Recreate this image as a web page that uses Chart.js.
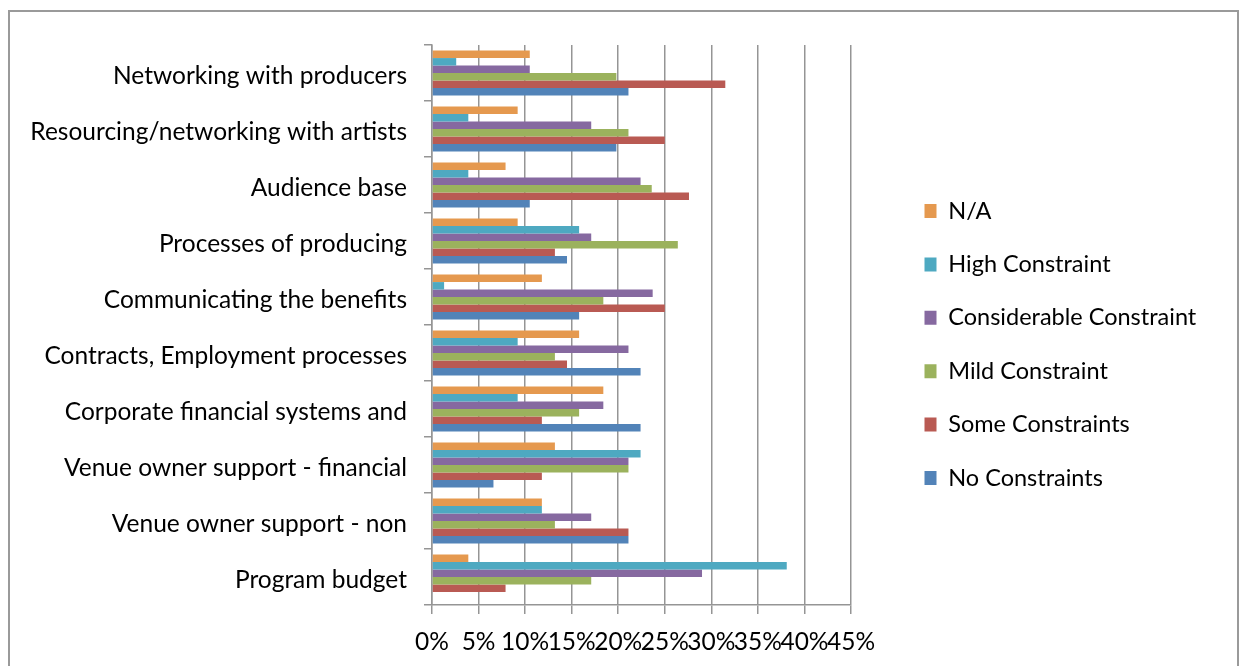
<!DOCTYPE html>
<html>
<head>
<meta charset="utf-8">
<script src="https://cdn.jsdelivr.net/npm/chart.js@4"></script>
<style>
  body { margin: 0; background: #fff; overflow: hidden; }
  #frame {
    position: absolute; left: 8px; top: 10px; width: 1227px; height: 700px;
    border: 2px solid #9a9a9a; border-bottom: none; pointer-events: none;
  }
  canvas { position: absolute; left: 0; top: 0; }
</style>
</head>
<body>
<canvas id="barChart" width="1245" height="666"></canvas>
<div id="frame"></div>
<script>
// categories, top to bottom
const categories = [
  'Networking with producers',
  'Resourcing/networking with artists',
  'Audience base',
  'Processes of producing',
  'Communicating the benefits',
  'Contracts, Employment processes',
  'Corporate financial systems and',
  'Venue owner support - financial',
  'Venue owner support - non',
  'Program budget'
];

// values in %
const notApplicable   = [10.5, 9.2, 7.9, 9.2, 11.8, 15.8, 18.4, 13.2, 11.8, 3.9];
const highConstraint  = [2.6, 3.9, 3.9, 15.8, 1.3, 9.2, 9.2, 22.4, 11.8, 38.1];
const considerable    = [10.5, 17.1, 22.4, 17.1, 23.7, 21.1, 18.4, 21.1, 17.1, 29.0];
const mildConstraint  = [19.8, 21.1, 23.6, 26.4, 18.4, 13.2, 15.8, 21.1, 13.2, 17.1];
const someConstraints = [31.5, 25.0, 27.6, 13.2, 25.0, 14.5, 11.8, 11.8, 21.1, 7.9];
const noConstraints   = [21.1, 19.8, 10.5, 14.5, 15.8, 22.4, 22.4, 6.6, 21.1, 0];

const xTicks = [0, 5, 10, 15, 20, 25, 30, 35, 40, 45];

const axisFont = { family: 'Lato', size: 24.5 };
const legendFont = { family: 'Lato', size: 23.5 };
const gridColor = '#959595';

// empty layout boxes: gap above the plot and between plot and legend,
// plus a fixed legend width so the legend sits where the original has it
const layoutTweaks = {
  id: 'layoutTweaks',
  beforeInit(chart) {
    const spacer = (position, size) => ({
      position, weight: 500, fullSize: false, options: {},
      left: 0, top: 0, right: 0, bottom: 0, width: 0, height: 0,
      isHorizontal() { return position === 'top' || position === 'bottom'; },
      update(maxWidth, maxHeight) {
        if (this.isHorizontal()) { this.width = maxWidth; this.height = size; }
        else { this.width = size; this.height = maxHeight; }
      },
      draw() {}
    });
    Chart.layouts.addBox(chart, spacer('right', 43.6));
    Chart.layouts.addBox(chart, spacer('top', 22));

    const legend = chart.legend;
    const origUpdate = legend.update;
    legend.update = function (maxWidth, maxHeight, margins) {
      origUpdate.call(this, 400, maxHeight, margins);
      this.width = 322;
    };
  }
};

const ctx = document.getElementById('barChart').getContext('2d');

new Chart(ctx, {
  type: 'bar',
  data: {
    labels: categories,
    datasets: [
      { label: 'N/A', data: notApplicable, backgroundColor: '#E5994F' },
      { label: 'High Constraint', data: highConstraint, backgroundColor: '#4EA9C1' },
      { label: 'Considerable Constraint', data: considerable, backgroundColor: '#8669A0' },
      { label: 'Mild Constraint', data: mildConstraint, backgroundColor: '#9BB25D' },
      { label: 'Some Constraints', data: someConstraints, backgroundColor: '#B95A53' },
      { label: 'No Constraints', data: noConstraints, backgroundColor: '#5283B8' }
    ]
  },
  plugins: [layoutTweaks],
  options: {
    indexAxis: 'y',
    responsive: false,
    animation: false,
    categoryPercentage: 0.8,
    barPercentage: 1.0,
    layout: { padding: { top: 23, bottom: 0, left: 0, right: 28.4 } },
    plugins: {
      tooltip: { enabled: false },
      legend: {
        position: 'right',
        align: 'center',
        labels: {
          font: legendFont,
          color: '#000',
          boxWidth: 12,
          boxHeight: 14,
          padding: 29.9
        }
      }
    },
    scales: {
      x: {
        min: 0,
        max: 45,
        afterBuildTicks: (scale) => { scale.ticks = xTicks.map(v => ({ value: v })); },
        afterFit: (scale) => { scale.height = 61; },
        ticks: {
          autoSkip: false,
          maxRotation: 0,
          minRotation: 0,
          padding: 13,
          color: '#000',
          font: axisFont,
          callback: (v) => v + '%'
        },
        grid: { color: gridColor, lineWidth: 1.5, tickLength: 9 },
        border: { color: gridColor, width: 1.5 }
      },
      y: {
        afterFit: (scale) => { scale.width = 432; },
        ticks: { autoSkip: false, padding: 17, labelOffset: 3, color: '#000', font: axisFont },
        grid: {
          offset: true,
          drawOnChartArea: false,
          tickLength: 8,
          color: gridColor,
          lineWidth: 1.5
        },
        border: { color: gridColor, width: 1.5 }
      }
    }
  }
});
</script>
</body>
</html>
